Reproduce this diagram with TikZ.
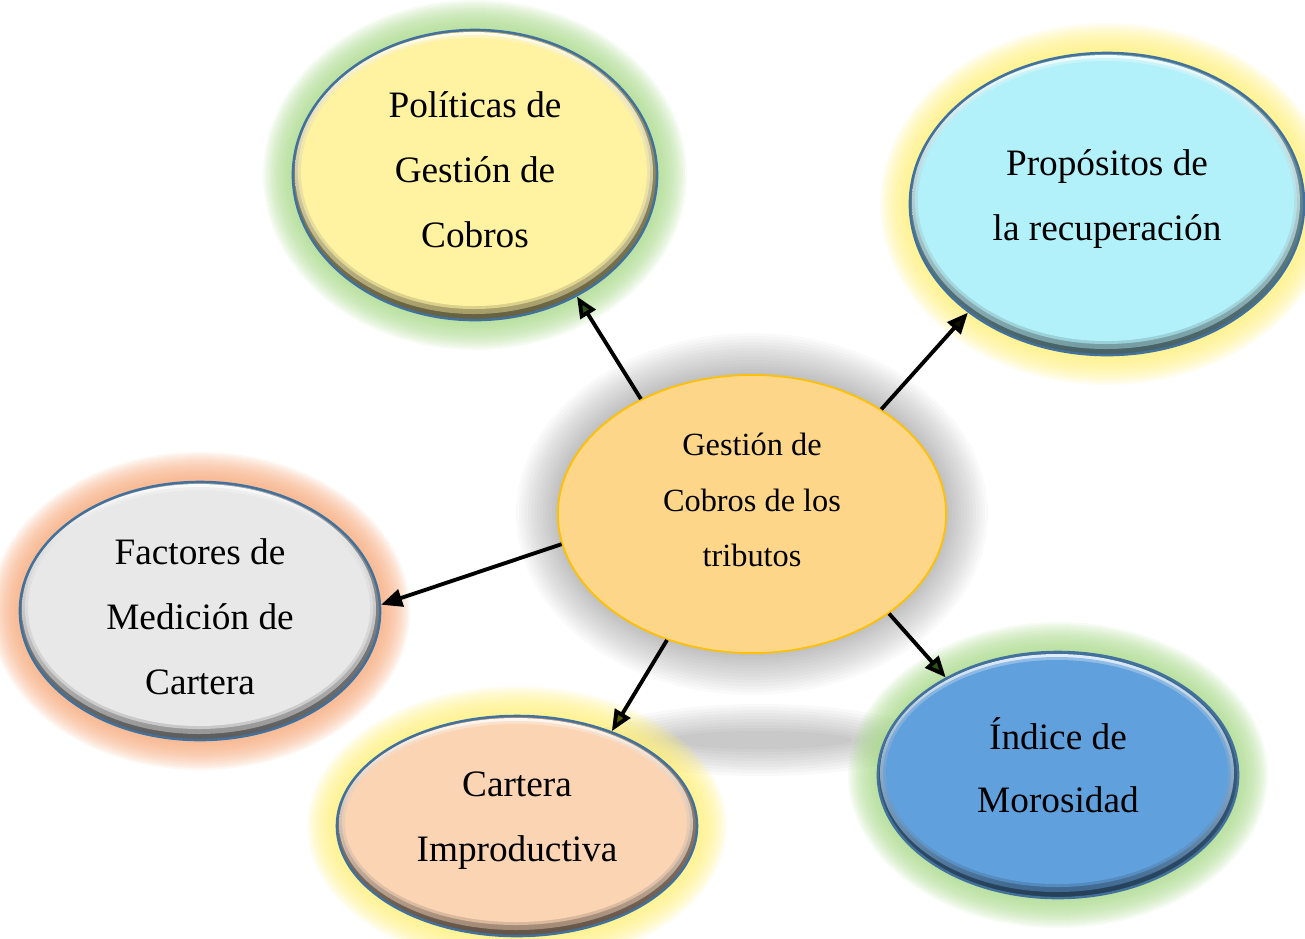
\documentclass[tikz,border=0pt]{standalone}
\usepackage{fontspec}
\setmainfont{Liberation Serif}
\usepackage{xcolor}
\usetikzlibrary{shapes.geometric,arrows.meta}

\definecolor{borde}{HTML}{41719C}
\definecolor{amarillo}{HTML}{FFF2A1}
\definecolor{celeste}{HTML}{B2F1FA}
\definecolor{gris}{HTML}{E8E8E8}
\definecolor{durazno}{HTML}{FBD4B4}
\definecolor{azul}{HTML}{5FA0DD}
\definecolor{naranja}{HTML}{FED68A}
\definecolor{bordenaranja}{HTML}{FFC000}
\definecolor{verdeluz}{HTML}{A9D98A}
\definecolor{amarilloluz}{HTML}{FFEF7A}
\definecolor{naranjaluz}{HTML}{F6A97A}
\definecolor{verdeosc}{HTML}{2A5418}
\definecolor{oliva}{HTML}{5A5A00}

\tikzset{
 burbuja/.style={ellipse,draw=borde,line width=0.7pt,inner sep=0pt},
 texto/.style={align=center,font=\fontsize{10.6}{18.5}\selectfont},
 flecha/.style={line width=1.1pt,-{Triangle[length=6pt,width=5pt,fill=#1]}}
}

\begin{document}
\begin{tikzpicture}[x=0.01cm,y=-0.01cm]
\useasboundingbox (0,0) rectangle (1305,938);

% sombra
\foreach \i in {0,...,13}
 \fill[black, opacity=0.02] (752,514) ellipse ({194+42-3*\i} and {139+42-3*\i});
\foreach \i in {0,...,9}
 \fill[black, opacity=0.025] (760,740) ellipse ({165-8*\i} and {36-3*\i});

% brillo
\foreach \x/\y/\rx/\ry/\gc in {475/175/182/145/verdeluz, 1107/204/197/151/amarilloluz, 200/611/180/129/naranjaluz, 517/826/180/110/amarilloluz, 1058/775/180/123/verdeluz}
 \foreach \i in {0,...,14}
  \fill[\gc, opacity=0.1] (\x,\y) ellipse ({\rx+30-2*\i} and {\ry+30-2*\i});

% relieve
\foreach \x/\y/\rx/\ry/\fc in {475/175/182/145/amarillo, 1107/204/197/151/celeste, 200/611/180/129/gris, 517/826/180/110/durazno, 1058/775/180/123/azul}{
 \shade[top color=\fc!70!black, bottom color=\fc!40!black] (\x,\y) ellipse ({\rx} and {\ry});
 \shade[top color=\fc!20!white, bottom color=\fc!65!black] (\x-1,\y-2) ellipse ({\rx-3} and {\ry-4});
 \fill[\fc, opacity=0.6] (\x-1,\y-3) ellipse ({\rx-6} and {\ry-8});
 \fill[\fc] (\x-1,\y-3) ellipse ({\rx-9} and {\ry-11});
}

\node[burbuja, minimum width=3.64cm, minimum height=2.9cm, label={[texto, yshift=0.05cm]center:{Políticas de\\Gestión de\\Cobros}}] (pol) at (475,175) {};
\node[burbuja, minimum width=3.94cm, minimum height=3.02cm, label={[texto, yshift=0.05cm]center:{Propósitos de\\la recuperación}}] (pro) at (1107,204) {};
\node[burbuja, minimum width=3.6cm, minimum height=2.58cm, label={[texto, yshift=-0.06cm]center:{Factores de\\Medición de\\Cartera}}] (fac) at (200,611) {};
\node[burbuja, minimum width=3.6cm, minimum height=2.2cm, label={[texto, yshift=0.05cm]center:{Cartera\\Improductiva}}] (car) at (517,826) {};
\node[burbuja, minimum width=3.6cm, minimum height=2.46cm, label={[texto, yshift=0.1cm, font=\fontsize{10.6}{18}\selectfont]center:{Índice de\\Morosidad}}] (ind) at (1058,775) {};
\node[burbuja, fill=naranja, draw=bordenaranja, line width=0.5pt, minimum width=3.88cm, minimum height=2.78cm, label={[texto, yshift=0.14cm, font=\fontsize{9.2}{15.8}\selectfont]center:{Gestión de\\Cobros de los\\tributos}}] (ges) at (752,514) {};

\draw[flecha=verdeosc] (ges.134) -- (pol.-50);
\draw[flecha=black!80!oliva] (ges.39) -- (pro.218);
\draw[flecha=black] (ges.189) -- (fac.2);
\draw[flecha=oliva] (ges.236) -- (car.45);
\draw[flecha=verdeosc] (ges.324) -- (ind.139);

\end{tikzpicture}
\end{document}
